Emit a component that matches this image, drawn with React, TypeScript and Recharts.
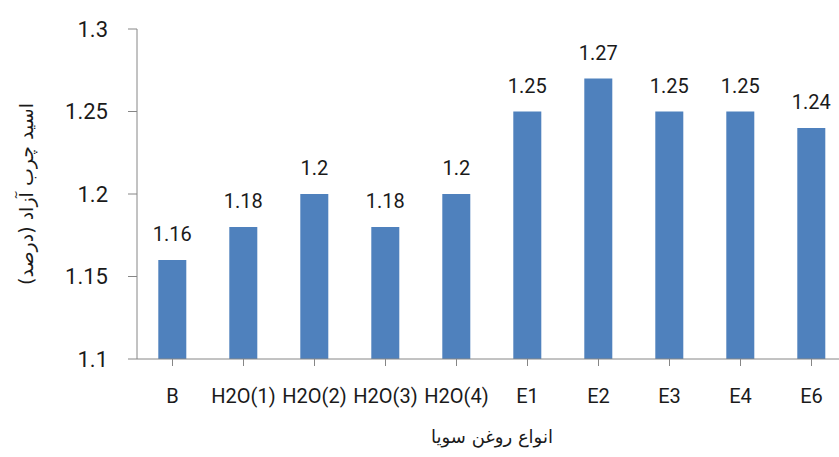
import { Bar, BarChart, LabelList, XAxis, YAxis, Label } from "recharts";

const categories = ["B", "H2O(1)", "H2O(2)", "H2O(3)", "H2O(4)", "E1", "E2", "E3", "E4", "E6"];
const acidValues = [1.16, 1.18, 1.2, 1.18, 1.2, 1.25, 1.27, 1.25, 1.25, 1.24];
const yTicks = [1.1, 1.15, 1.2, 1.25, 1.3];

const xTitle = "انواع روغن سویا";
const yTitle = "اسید چرب آزاد (درصد)";

const data = categories.map((name, i) => ({ name, value: acidValues[i] }));

const font = "Roboto, sans-serif";
const persianFont = "'DejaVu Sans', sans-serif";

export default function App() {
    return (
        <div style={{ position: "absolute", left: 0, top: 0, width: 839, height: 457, overflow: "hidden", background: "#fff" }}>
            <BarChart
                width={860}
                height={457}
                data={data}
                margin={{ top: 29, right: 13, bottom: 0, left: 0 }}
                barCategoryGap="30%"
                style={{ fontFamily: font }}
            >
                <XAxis
                    dataKey="name"
                    height={98}
                    stroke="#868686"
                    tickSize={7}
                    tickMargin={23}
                    interval={0}
                    tick={{ fill: "#1a1a1a", fontSize: 20 }}
                >
                    <Label
                        value={xTitle}
                        position="insideBottom"
                        offset={14}
                        style={{ fill: "#1a1a1a", fontSize: 18, fontFamily: persianFont }}
                    />
                </XAxis>
                <YAxis
                    width={137}
                    domain={[1.1, 1.3]}
                    ticks={yTicks}
                    stroke="#868686"
                    tickSize={9}
                    tickMargin={20}
                    tickFormatter={(v) => `${v}`}
                    tick={{ fill: "#1a1a1a", fontSize: 22 }}
                >
                    <Label
                        value={yTitle}
                        position="center"
                        angle={-90}
                        dx={-42}
                        style={{ fill: "#1a1a1a", fontSize: 19, textAnchor: "middle", fontFamily: persianFont }}
                    />
                </YAxis>
                <Bar dataKey="value" fill="#4F81BD" isAnimationActive={false}>
                    <LabelList dataKey="value" position="top" offset={19} fill="#1a1a1a" fontSize={20} />
                </Bar>
            </BarChart>
        </div>
    );
}
